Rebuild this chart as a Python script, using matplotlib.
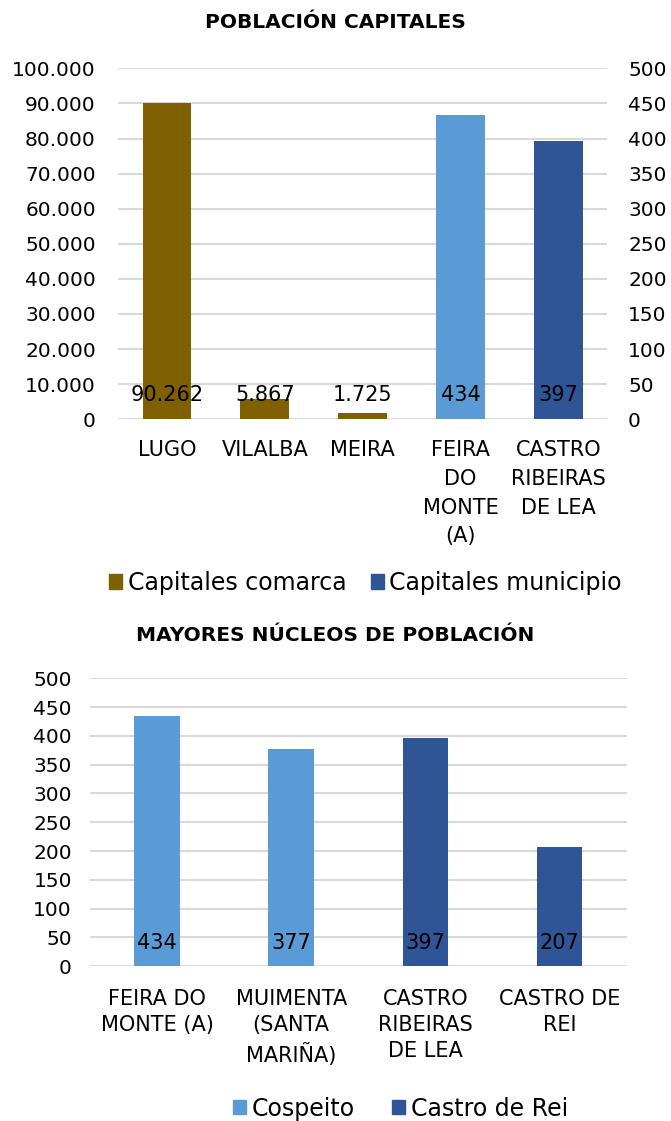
import matplotlib.pyplot as plt
from matplotlib.patches import Patch
import matplotlib.transforms as mtransforms

plt.rcParams['font.family'] = ['DejaVu Sans']

# --- data ---
top_cats = ['LUGO', 'VILALBA', 'MEIRA', 'FEIRA\nDO\nMONTE\n(A)', 'CASTRO\nRIBEIRAS\nDE LEA']
comarca_vals = [90262, 5867, 1725]          # left axis
municipio_vals = [434, 397]                 # right axis
left_ticks = [0, 10000, 20000, 30000, 40000, 50000, 60000, 70000, 80000, 90000, 100000]
right_ticks = [0, 50, 100, 150, 200, 250, 300, 350, 400, 450, 500]

bot_cats = ['FEIRA DO\nMONTE (A)', 'MUIMENTA\n(SANTA\nMARIÑA)', 'CASTRO\nRIBEIRAS\nDE LEA', 'CASTRO DE\nREI']
cospeito_vals = [434, 377]
castro_vals = [397, 207]
bot_ticks = [0, 50, 100, 150, 200, 250, 300, 350, 400, 450, 500]

BROWN = '#7F6000'
LIGHT = '#5B9BD5'
DARK = '#2F5597'
GRID = '#D9D9D9'

def fmt(v):
    return f"{v:,}".replace(',', '.')

fig = plt.figure(figsize=(6.71, 11.21), dpi=100)

# ==================== top chart ====================
ax1 = fig.add_axes([0.176, 0.626, 0.729, 0.313])
ax2 = ax1.twinx()
xt = list(range(len(top_cats)))
bw = 0.5
ax1.bar(xt[:3], comarca_vals, width=bw, color=BROWN, zorder=3)
ax2.bar(xt[3:], municipio_vals, width=bw, color=[LIGHT, DARK], zorder=3)

ax1.set_ylim(0, 100000)
ax2.set_ylim(0, 500)
ax1.set_xlim(-0.5, len(top_cats) - 0.5)
ax1.set_yticks(left_ticks)
ax1.set_yticklabels([fmt(t) for t in left_ticks])
ax2.set_yticks(right_ticks)
ax2.set_yticklabels([str(t) for t in right_ticks])
ax1.set_xticks(xt)
ax1.set_xticklabels(top_cats, linespacing=1.55)
for a in (ax1, ax2):
    for s in a.spines.values():
        s.set_visible(False)
    a.tick_params(length=0, labelsize=14.5, colors='#000000')
ax1.tick_params(axis='x', labelsize=15, pad=15)
ax1.tick_params(axis='y', pad=16)
ax2.tick_params(axis='y', pad=15)
ax1.grid(axis='y', color=GRID, linewidth=1.5, zorder=0)
ax1.set_axisbelow(True)

# value labels near the base of each bar
trans1 = mtransforms.blended_transform_factory(ax1.transData, ax1.transAxes)
for x, v in zip(xt[:3], comarca_vals):
    ax1.text(x, 0.068, fmt(v), transform=trans1, ha='center', va='center', fontsize=15, zorder=5)
trans2 = mtransforms.blended_transform_factory(ax2.transData, ax2.transAxes)
for x, v in zip(xt[3:], municipio_vals):
    ax2.text(x, 0.068, fmt(v), transform=trans2, ha='center', va='center', fontsize=15, zorder=5)

fig.text(0.5, 0.980, 'POBLACIÓN CAPITALES', ha='center', va='center', fontsize=14.5, fontweight='bold')
fig.legend(handles=[Patch(color=BROWN, label='Capitales comarca'),
                    Patch(color=DARK, label='Capitales municipio')],
           loc='center', bbox_to_anchor=(0.545, 0.480), ncol=2, frameon=False,
           fontsize=17, handlelength=0.55, handleheight=0.55, handletextpad=0.25, columnspacing=1.0)

# ==================== bottom chart ====================
ax3 = fig.add_axes([0.134, 0.138, 0.800, 0.257])
xb = list(range(len(bot_cats)))
bw2 = 0.34
ax3.bar(xb[:2], cospeito_vals, width=bw2, color=LIGHT, zorder=3)
ax3.bar(xb[2:], castro_vals, width=bw2, color=DARK, zorder=3)
ax3.set_ylim(0, 500)
ax3.set_xlim(-0.5, len(bot_cats) - 0.5)
ax3.set_yticks(bot_ticks)
ax3.set_xticks(xb)
ax3.set_xticklabels(bot_cats, linespacing=1.4)
for s in ax3.spines.values():
    s.set_visible(False)
ax3.tick_params(length=0, labelsize=14.5, colors='#000000')
ax3.tick_params(axis='x', labelsize=15, pad=16)
ax3.tick_params(axis='y', pad=13)
ax3.grid(axis='y', color=GRID, linewidth=1.5, zorder=0)
ax3.set_axisbelow(True)

trans3 = mtransforms.blended_transform_factory(ax3.transData, ax3.transAxes)
for x, v in zip(xb, cospeito_vals + castro_vals):
    ax3.text(x, 0.08, fmt(v), transform=trans3, ha='center', va='center', fontsize=15, zorder=5)

fig.text(0.5, 0.433, 'MAYORES NÚCLEOS DE POBLACIÓN', ha='center', va='center', fontsize=14.5, fontweight='bold')
fig.legend(handles=[Patch(color=LIGHT, label='Cospeito'),
                    Patch(color=DARK, label='Castro de Rei')],
           loc='center', bbox_to_anchor=(0.597, 0.011), ncol=2, frameon=False,
           fontsize=17, handlelength=0.55, handleheight=0.55, handletextpad=0.25, columnspacing=1.6)

fig.savefig('out.png', dpi=100)
